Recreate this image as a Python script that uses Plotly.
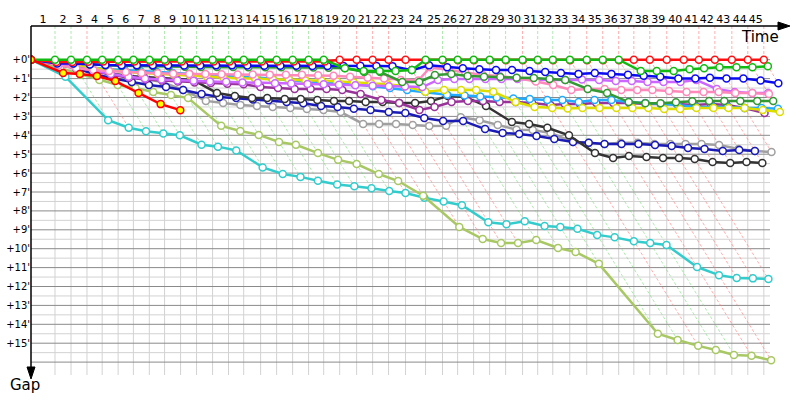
import plotly.graph_objects as go

# ---------------- data ----------------
# leader lap times (seconds), laps 1..45
lap_times_s = [124.1, 82.9, 82.5, 78.6, 82.6, 78.9, 82.4, 79.0, 82.7, 82.6,
               82.9, 82.5, 78.4, 87.6, 82.7, 82.9, 82.5, 78.1, 82.6, 87.8,
               82.7, 82.4, 87.9, 103.5, 87.7, 78.2, 82.6, 82.9, 82.7, 87.6,
               78.3, 78.1, 87.9, 87.6, 82.8, 82.5, 78.4, 82.6, 87.7, 87.9,
               78.2, 82.8, 87.7, 82.6, 82.9]
lap_labels = [str(i) for i in range(1, 46)]
# colour of each lap line: g = green, r = red
lap_line_colours = ["g", "g", "r", "g", "g", "g", "g", "g", "g", "g",
                    "g", "g", "g", "g", "g", "g", "g", "r", "r", "r",
                    "r", "r", "r", "g", "g", "g", "g", "g", "g", "r",
                    "g", "g", "r", "r", "r", "r", "r", "r", "r", "r",
                    "r", "r", "r", "r", "r"]
gap_ticks = list(range(0, 16))
gap_tick_labels = ["+%d'" % v for v in gap_ticks]

# gaps to leader (minutes) at the end of each lap completed
gap_green = [0, 0, 0, 0, 0, 0, 0, 0, 0, 0, 0, 0, 0, 0, 0, 0, 0, 0,
             0.45, 0.6, 0.6, 0.6, 0.55,
             0, 0, 0, 0, 0, 0, 0, 0, 0, 0, 0, 0, 0,
             0.6, 0.6, 0.6, 0.5, 0.45, 0.4, 0.4, 0.4, 0.35]
gap_red = [0.12, 0.12, 0.11, 0.1, 0.1, 0.1, 0.1, 0.1, 0.1, 0.1, 0.1, 0.1,
           0.1, 0.1, 0.1, 0.1, 0.1, 0.1,
           0, 0, 0, 0, 0,
           0.03, 0.03, 0.03, 0.03, 0.03, 0.03, 0.03, 0.03, 0.03, 0.03, 0.03,
           0.03, 0.03,
           0, 0, 0, 0, 0, 0, 0, 0, 0]
gap_blue = [0.2, 0.2, 0.25, 0.28, 0.3, 0.3, 0.3, 0.3, 0.31, 0.31, 0.3, 0.3,
            0.31, 0.32, 0.32, 0.32, 0.33, 0.33, 0.33, 0.32, 0.33, 0.34,
            0.55, 0.3, 0.4, 0.45, 0.5, 0.55, 0.55, 0.6, 0.65, 0.7, 0.75,
            0.7, 0.75, 0.8, 0.85, 0.9, 1.0, 1.0, 0.95, 1.0, 1.0, 1.1, 1.25]
gap_darkgreen = [0.1, 0.2, 0.25, 0.3, 0.32, 0.34, 0.35, 0.36, 0.37, 0.38,
                 0.38, 0.39, 0.4, 0.4, 0.4, 0.41, 0.41, 0.42, 0.44, 0.65,
                 0.65, 1.18, 1.18, 0.81, 0.76, 0.86, 0.9, 0.92, 0.95, 0.97,
                 1.02, 1.07, 1.55, 1.76, 2.24, 2.3, 2.3, 2.25, 2.2, 2.19,
                 2.19, 2.19, 2.19, 2.19]
gap_pink = [0.3, 0.45, 0.55, 0.6, 0.65, 0.7, 0.72, 0.74, 0.75, 0.76, 0.77,
            0.78, 0.78, 0.79, 0.8, 0.8, 0.82, 0.85, 0.9, 0.95, 1.0, 1.07,
            1.1, 0.4, 0.55, 0.65, 0.81, 0.86, 0.97, 1.15, 1.34, 1.6, 1.55,
            1.55, 1.6, 1.6, 1.6, 1.66, 1.71, 1.71, 1.71, 1.76, 1.76, 1.82]
gap_violet = [0.2, 0.4, 0.6, 0.75, 0.9, 1.0, 1.05, 1.1, 1.12, 1.15, 1.17,
              1.2, 1.22, 1.24, 1.26, 1.28, 1.3, 1.32, 1.35, 1.38, 1.4, 1.42,
              1.45, 1.07, 1.02, 1.02, 1.02, 1.02, 1.02, 1.07, 1.07, 1.07,
              1.05, 1.07, 1.13, 1.13, 1.18, 1.18, 1.18, 1.07, 1.55, 1.71,
              1.76, 1.76]
gap_yellow = [0.15, 0.3, 0.45, 0.55, 0.65, 0.7, 0.75, 0.8, 0.85, 0.9, 0.95,
              1.0, 1.0, 1.05, 1.05, 1.1, 1.1, 1.15, 1.2, 1.25, 1.3, 1.4,
              1.7, 1.6, 1.6, 1.6, 1.7, 2.24, 2.5, 2.56, 2.58, 2.56, 2.56,
              2.56, 2.56, 2.56, 2.61, 2.61, 2.56, 2.56, 2.56, 2.56, 2.66, 2.77]
gap_lightblue = [0.15, 0.3, 0.4, 0.5, 0.55, 0.6, 0.65, 0.7, 0.75, 0.8, 0.85,
                 0.9, 0.95, 1.0, 1.1, 1.15, 1.2, 1.25, 1.3, 1.4, 1.5, 1.6,
                 1.7, 1.85, 1.9, 1.95, 2.0, 2.05, 2.08, 2.13, 2.13, 2.24,
                 2.13, 2.13, 2.24, 2.29, 2.34, 2.4, 2.5, 2.5, 2.5, 2.56,
                 2.56, 2.6]
gap_purple = [0.2, 0.4, 0.6, 0.8, 0.95, 1.05, 1.1, 1.15, 1.2, 1.23, 1.27,
              1.3, 1.44, 1.5, 1.55, 1.55, 1.55, 1.6, 1.81, 2.13, 2.29, 2.66,
              2.5, 2.24, 2.19, 2.19, 2.24, 2.24, 2.29, 2.4, 2.34, 2.34, 2.29,
              2.29, 2.29, 2.34, 2.34, 2.34, 2.4, 2.34, 2.4, 2.56, 2.82]
gap_black = [0.25, 0.45, 0.6, 0.76, 0.86, 0.92, 0.97, 1.02, 1.07, 1.76, 1.92,
             2.03, 2.03, 2.08, 2.08, 2.13, 2.19, 2.19, 2.24, 2.24, 2.29, 2.29,
             2.19, 1.92, 1.97, 2.45, 3.3, 3.4, 3.6, 4.0, 4.94, 5.2, 5.1,
             5.15, 5.2, 5.2, 5.25, 5.41, 5.47, 5.41, 5.47]
gap_navy = [0.25, 0.45, 0.8, 1.0, 1.18, 1.34, 1.44, 1.6, 1.81, 1.97, 2.03,
            2.1, 2.15, 2.24, 2.3, 2.45, 2.5, 2.6, 2.66, 2.77, 2.82, 3.08,
            3.24, 3.24, 3.67, 3.88, 3.93, 4.04, 4.2, 4.35, 4.4, 4.46, 4.46,
            4.46, 4.51, 4.57, 4.67, 4.72, 4.83, 4.78, 4.83]
gap_grey = [0.15, 0.35, 0.55, 0.7, 0.85, 1.0, 1.2, 1.6, 2.18, 2.29, 2.4,
            2.45, 2.5, 2.56, 2.61, 2.66, 2.77, 3.4, 3.4, 3.4, 3.46, 3.51,
            3.5, 3.04, 3.2, 3.46, 3.7, 3.72, 3.88, 4.35, 4.4, 4.46, 4.4,
            4.4, 4.46, 4.46, 4.46, 4.46, 4.51, 4.72, 4.83, 4.88]
gap_olive = [0.45, 0.8, 1.07, 1.34, 1.5, 1.71, 1.87, 2.03, 3.5, 3.77, 3.98,
             4.35, 4.5, 4.94, 5.3, 5.52, 6.05, 6.42, 7.2, 8.85, 9.49, 9.7,
             9.7, 9.54, 9.96, 10.17, 10.8, 14.5, 14.83, 15.14, 15.36, 15.62,
             15.67, 15.9]
gap_cyan = [0.9, 3.2, 3.6, 3.78, 3.9, 4.0, 4.5, 4.6, 4.8, 5.7, 6.05, 6.2,
            6.4, 6.6, 6.7, 6.8, 6.95, 7.05, 7.3, 7.5, 7.7, 8.6, 8.7, 8.55,
            8.8, 8.85, 8.95, 9.27, 9.4, 9.6, 9.7, 9.8, 10.97, 11.4, 11.55,
            11.57, 11.6]
gap_red_retired = [0.7, 0.76, 0.86, 1.13, 1.76, 2.35, 2.67]

# drawing order: first = bottom
cars = [
    ("cyan", gap_cyan, "#33cccc", "white"),
    ("olive", gap_olive, "#a8c864", "white"),
    ("grey", gap_grey, "#a0a0a0", "white"),
    ("navy", gap_navy, "#1a1ab4", "white"),
    ("black", gap_black, "#333333", "white"),
    ("purple", gap_purple, "#993399", "white"),
    ("lightblue", gap_lightblue, "#22aaff", "white"),
    ("yellow", gap_yellow, "#dddd00", "white"),
    ("violet", gap_violet, "#cc66ff", "white"),
    ("pink", gap_pink, "#ff88bb", "white"),
    ("darkgreen", gap_darkgreen, "#339933", "white"),
    ("blue", gap_blue, "#0a0aee", "white"),
    ("red", gap_red, "#ff1010", "white"),
    ("green", gap_green, "#11bb11", "white"),
    ("red2", gap_red_retired, "#ff0000", "#ffff00"),
]

# ---------------- geometry (pixel layout of the plot area) ----------------
W, H = 800, 400
PL, PR, PT, PB = 31, 790, 26, 375       # plot area in pixels
PX_PER_MIN_X = 11.6
PX_PER_MIN_Y = 18.9
ZERO_PY = 59.7
x_max = (PR - PL) / PX_PER_MIN_X
y_top = (PT - ZERO_PY) / PX_PER_MIN_Y
y_bot = (PB - ZERO_PY) / PX_PER_MIN_Y
grid_x_end = (770 - PL) / PX_PER_MIN_X

# cumulative leader time (minutes)
T = [0.0]
for lt in lap_times_s:
    T.append(T[-1] + lt / 60.0)

fig = go.Figure()

# minor / major horizontal grid
minor_x, minor_y, major_x, major_y = [], [], [], []
for k in range(0, 33):
    g = k * 0.5
    if g > y_bot:
        break
    if k % 2 == 0:
        major_x += [0, grid_x_end, None]
        major_y += [g, g, None]
    else:
        minor_x += [0, grid_x_end, None]
        minor_y += [g, g, None]
# vertical grid at lap ends
vx, vy = [], []
for n in range(1, len(T)):
    vx += [T[n], T[n], None]
    vy += [0, y_bot, None]

fig.add_trace(go.Scatter(x=minor_x + vx, y=minor_y + vy, mode="lines",
                         line=dict(color="#d2d2d2", width=1), hoverinfo="skip"))
fig.add_trace(go.Scatter(x=major_x, y=major_y, mode="lines",
                         line=dict(color="#8a8a8a", width=1), hoverinfo="skip"))

# lap lines: from top, down to zero, then diagonal to last car of that lap
lines = {"g": ([], []), "r": ([], [])}
for n in range(1, len(T)):
    gaps_n = [c[1][n - 1] for c in cars if len(c[1]) >= n]
    G = max(gaps_n) if gaps_n else 0
    xs, ys = lines[lap_line_colours[n - 1]]
    xs += [T[n], T[n], T[n] + G, None]
    ys += [y_top, 0, G, None]
fig.add_trace(go.Scatter(x=lines["g"][0], y=lines["g"][1], mode="lines",
                         line=dict(color="rgba(110,215,110,0.55)", width=1, dash="3px,2px"),
                         hoverinfo="skip"))
fig.add_trace(go.Scatter(x=lines["r"][0], y=lines["r"][1], mode="lines",
                         line=dict(color="rgba(255,120,120,0.6)", width=1, dash="3px,2px"),
                         hoverinfo="skip"))

# cars
for name, gaps, col, fill in cars:
    xs = [0.0] + [T[i + 1] + g for i, g in enumerate(gaps)]
    ys = [0.0] + list(gaps)
    fig.add_trace(go.Scatter(
        x=xs, y=ys, mode="lines+markers", name=name,
        line=dict(color=col, width=2.5),
        marker=dict(symbol="circle", size=7, color=fill,
                    line=dict(color=col, width=1.5)),
        hoverinfo="skip"))

# helpers for paper coords
def px(xp):
    return (xp - PL) / (PR - PL)

def py(yp):
    return (PB - yp) / (PB - PT)

shapes = [
    dict(type="line", xref="paper", yref="paper", x0=0, x1=px(779), y0=1, y1=1,
         line=dict(color="black", width=1.5)),
    dict(type="line", xref="paper", yref="paper", x0=0, x1=0, y0=1, y1=py(368),
         line=dict(color="black", width=1.5)),
    dict(type="path", xref="paper", yref="paper",
         path="M %f %f L %f %f L %f %f Z" % (px(778), py(22), px(790), py(26), px(778), py(30)),
         fillcolor="black", line=dict(color="black", width=1)),
    dict(type="path", xref="paper", yref="paper",
         path="M %f %f L %f %f L %f %f Z" % (px(27), py(367), px(31), py(379), px(35), py(367)),
         fillcolor="black", line=dict(color="black", width=1)),
]

annotations = [
    dict(text="Time", xref="paper", yref="paper", x=px(760), y=py(37),
         showarrow=False, font=dict(family="DejaVu Sans", size=15, color="black"),
         xanchor="center", yanchor="middle"),
    dict(text="Gap", xref="paper", yref="paper", x=px(25), y=py(385),
         showarrow=False, font=dict(family="DejaVu Sans", size=15, color="black"),
         xanchor="center", yanchor="middle"),
]

mids = [(T[n - 1] + T[n]) / 2 for n in range(1, len(T))]

fig.update_layout(
    width=W, height=H, autosize=False,
    margin=dict(l=PL, r=W - PR, t=PT, b=H - PB, pad=0),
    paper_bgcolor="white", plot_bgcolor="white",
    showlegend=False, hovermode=False,
    shapes=shapes, annotations=annotations,
    font=dict(family="DejaVu Sans", color="black"),
    xaxis=dict(range=[0, x_max], side="top", tickmode="array",
               tickvals=mids, ticktext=lap_labels, ticks="", tickangle=0,
               automargin=False,
               showgrid=False, zeroline=False, showline=False,
               tickfont=dict(family="DejaVu Sans", size=11, color="black")),
    yaxis=dict(range=[y_bot, y_top], tickmode="array",
               tickvals=gap_ticks, ticktext=gap_tick_labels, ticks="",
               automargin=False,
               showgrid=False, zeroline=False, showline=False,
               tickfont=dict(family="DejaVu Sans", size=10, color="black")),
)

fig.write_html("out.html", config={"displayModeBar": False},
               post_script="document.body.style.margin='0';document.body.style.overflow='hidden';")
